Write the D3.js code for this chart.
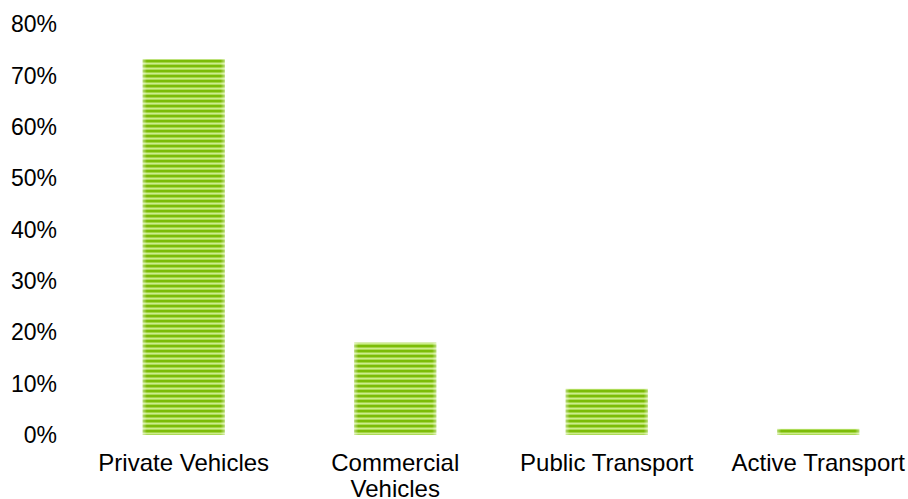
<!DOCTYPE html>
<html>
<head>
<meta charset="utf-8">
<script src="https://cdn.jsdelivr.net/npm/d3@7"></script>
<style>
  body { margin: 0; background: #fff; }
  text { font-family: Arial, "Liberation Sans", sans-serif; fill: #000; }
</style>
</head>
<body>
<div id="chart"></div>
<script>
// data
var categories = ["Private Vehicles", "Commercial Vehicles", "Public Transport", "Active Transport"];
var shares = [0.732, 0.18, 0.09, 0.012];
var yTicks = [0, 0.1, 0.2, 0.3, 0.4, 0.5, 0.6, 0.7, 0.8];

var width = 908,
    height = 499,
    fontSize = 23;

var data = categories.map(function (c, i) { return {key: c, value: shares[i]}; });

var svg = d3.select("#chart").append("svg")
    .attr("width", width)
    .attr("height", height);

var defs = svg.append("defs");

// horizontal stripes like the original fill
var pat = defs.append("pattern")
    .attr("id", "stripes")
    .attr("patternUnits", "userSpaceOnUse")
    .attr("width", 10)
    .attr("height", 5);
pat.append("rect").attr("width", 10).attr("height", 5).attr("fill", "#cdec8c");
pat.append("rect").attr("y", 0).attr("width", 10).attr("height", 2).attr("fill", "#7cbc08");
pat.append("rect").attr("y", 2).attr("width", 10).attr("height", 1).attr("fill", "#a4d545");
pat.append("rect").attr("y", 4).attr("width", 10).attr("height", 1).attr("fill", "#addb58");

// soft lighter edges left/right
var grad = defs.append("linearGradient")
    .attr("id", "edges")
    .attr("x1", "0").attr("x2", "1").attr("y1", "0").attr("y2", "0");
grad.append("stop").attr("offset", "0%").attr("stop-color", "#fff").attr("stop-opacity", 0.45);
grad.append("stop").attr("offset", "5%").attr("stop-color", "#fff").attr("stop-opacity", 0);
grad.append("stop").attr("offset", "95%").attr("stop-color", "#fff").attr("stop-opacity", 0);
grad.append("stop").attr("offset", "100%").attr("stop-color", "#fff").attr("stop-opacity", 0.45);

var xScale = d3.scaleBand()
    .domain(categories)
    .range([78, 924])
    .paddingInner(0.612)
    .paddingOuter(0.306);

var yScale = d3.scaleLinear()
    .domain([0, 0.8])
    .range([435, 24.3]);

// y axis: labels only
var yAxis = svg.append("g")
    .attr("class", "y axis")
    .attr("transform", "translate(57,0)")
    .call(d3.axisLeft(yScale).tickValues(yTicks).tickFormat(d3.format(".0%")).tickSize(0).tickPadding(0));
yAxis.select(".domain").remove();
yAxis.selectAll("text")
    .attr("font-size", fontSize)
    .attr("font-family", "Arial, 'Liberation Sans', sans-serif")
    .attr("fill", "#000");

// bars
var bars = svg.append("g").selectAll(".bar")
    .data(data)
  .enter();

bars.append("rect")
    .attr("class", "bar")
    .attr("x", function (d) { return xScale(d.key); })
    .attr("y", function (d) { return yScale(d.value); })
    .attr("width", xScale.bandwidth())
    .attr("height", function (d) { return yScale(0) - yScale(d.value); })
    .attr("fill", "url(#stripes)");

bars.append("rect")
    .attr("x", function (d) { return xScale(d.key); })
    .attr("y", function (d) { return yScale(d.value); })
    .attr("width", xScale.bandwidth())
    .attr("height", function (d) { return yScale(0) - yScale(d.value); })
    .attr("fill", "url(#edges)");

// x labels, wrapped where the original wraps
var xLabels = svg.append("g").selectAll(".xlabel")
    .data(data)
  .enter().append("text")
    .attr("class", "xlabel")
    .attr("text-anchor", "middle")
    .attr("font-size", 24)
    .attr("x", function (d) { return xScale(d.key) + xScale.bandwidth() / 2; })
    .attr("y", 471);

xLabels.each(function (d) {
  var t = d3.select(this);
  var lines = d.key === "Commercial Vehicles" ? ["Commercial", "Vehicles"] : [d.key];
  lines.forEach(function (l, i) {
    t.append("tspan")
      .attr("x", xScale(d.key) + xScale.bandwidth() / 2)
      .attr("dy", i === 0 ? 0 : 26)
      .text(l);
  });
});
</script>
</body>
</html>
